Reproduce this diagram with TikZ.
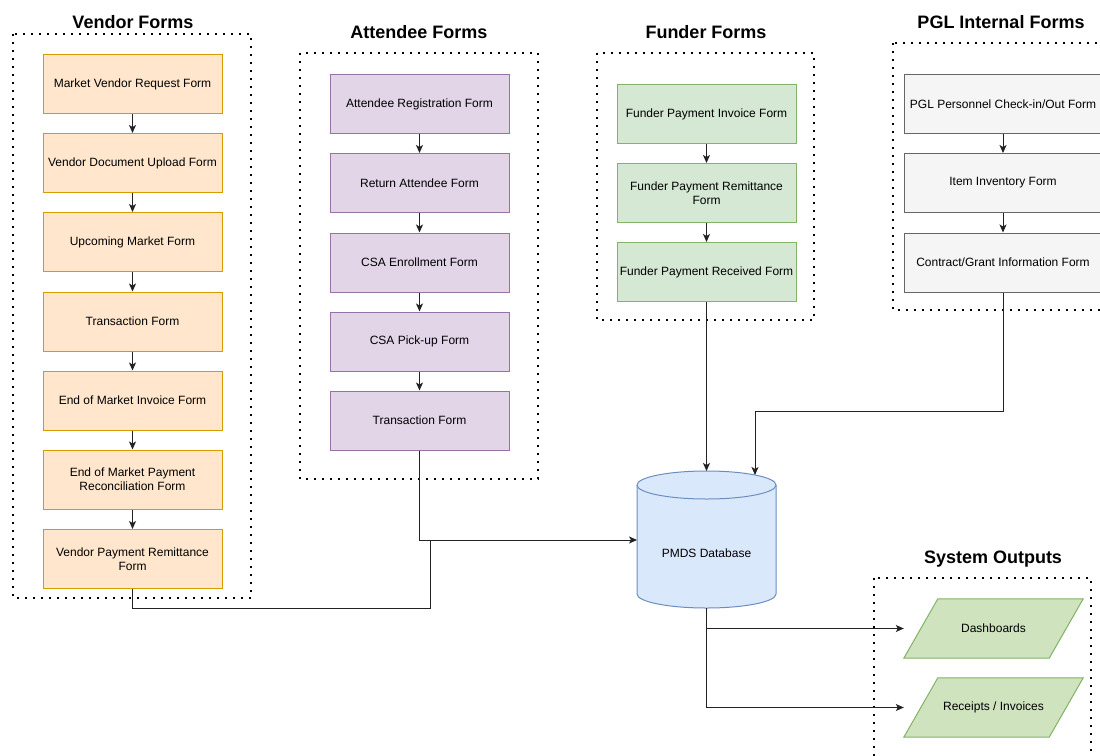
\documentclass[tikz,border=0pt]{standalone}
\usepackage{fontspec}
\setmainfont{Liberation Sans}
\usetikzlibrary{arrows.meta,calc}

\definecolor{vfill}{HTML}{FFE6CC}
\definecolor{vline}{HTML}{D79B00}
\definecolor{afill}{HTML}{E1D5E7}
\definecolor{aline}{HTML}{9673A6}
\definecolor{ffill}{HTML}{D5E8D4}
\definecolor{fline}{HTML}{82B366}
\definecolor{pfill}{HTML}{F5F5F5}
\definecolor{pline}{HTML}{666666}
\definecolor{dbfill}{HTML}{DAE8FC}
\definecolor{dbline}{HTML}{6C8EBF}
\definecolor{ofill}{HTML}{CFE3BE}
\definecolor{oline}{HTML}{82B366}
\definecolor{wire}{HTML}{222222}

\begin{document}
\begin{tikzpicture}[x=1pt,y=1pt,
  form/.style={draw, line width=1pt, minimum width=179pt, minimum height=59pt,
    inner sep=2pt, align=center, font=\fontsize{12}{14.4}\selectfont},
  vendorbox/.style={form, fill=vfill, draw=vline},
  attbox/.style={form, fill=afill, draw=aline},
  funbox/.style={form, fill=ffill, draw=fline},
  pglbox/.style={form, fill=pfill, draw=pline, minimum width=198pt},
  groupframe/.style={line width=2pt, dash pattern=on 2pt off 6pt, black},
  grouptitle/.style={anchor=base, inner sep=0pt, font=\fontsize{18}{21}\selectfont\bfseries},
  wireline/.style={draw=wire, line width=1pt},
  arr/.style={wireline, -{Stealth[length=8pt, width=7pt, inset=2pt]}},
  outbox/.style={minimum width=179pt, minimum height=59pt, inner sep=0pt,
    font=\fontsize{12}{14.4}\selectfont},
]
\clip (0,0) rectangle (1100,-755);
\fill[white] (0,0) rectangle (1100,-755);

% ---- group frames and titles ----
\draw[groupframe] (13,-34) rectangle (251,-598);
\node[grouptitle] (tv) at (133,-28) {Vendor Forms};

\draw[groupframe] (300,-53) rectangle (538,-479);
\node[grouptitle] (ta) at (419,-38) {Attendee Forms};

\draw[groupframe] (597,-53) rectangle (814,-320);
\node[grouptitle] (tf) at (706,-38) {Funder Forms};

\draw[groupframe] (893,-43) rectangle (1120,-310);
\node[grouptitle] (tp) at (1001,-28) {PGL Internal Forms};

\draw[groupframe] (874,-578) rectangle (1091,-780);
\node[grouptitle] (to) at (993,-563) {System Outputs};

% ---- vendor forms ----
\node[vendorbox] (v1) at (132.5,-84)    {Market Vendor Request Form};
\node[vendorbox] (v2) at (132.5,-163)   {Vendor Document Upload Form};
\node[vendorbox] (v3) at (132.5,-242)   {Upcoming Market Form};
\node[vendorbox] (v4) at (132.5,-321.5) {Transaction Form};
\node[vendorbox] (v5) at (132.5,-400.5) {End of Market Invoice Form};
\node[vendorbox] (v6) at (132.5,-479.5) {End of Market Payment\\Reconciliation Form};
\node[vendorbox] (v7) at (132.5,-559)   {Vendor Payment Remittance\\Form};

% ---- attendee forms ----
\node[attbox] (a1) at (419.5,-104)   {Attendee Registration Form};
\node[attbox] (a2) at (419.5,-183)   {Return Attendee Form};
\node[attbox] (a3) at (419.5,-262.5) {CSA Enrollment Form};
\node[attbox] (a4) at (419.5,-341.5) {CSA Pick-up Form};
\node[attbox] (a5) at (419.5,-420.5) {Transaction Form};

% ---- funder forms ----
\node[funbox] (f1) at (706.5,-114) {Funder Payment Invoice Form};
\node[funbox] (f2) at (706.5,-193) {Funder Payment Remittance\\Form};
\node[funbox] (f3) at (706.5,-272) {Funder Payment Received Form};

% ---- PGL internal forms ----
\node[pglbox] (p1) at (1003,-104)   {PGL Personnel Check-in/Out Form};
\node[pglbox] (p2) at (1003,-183)   {Item Inventory Form};
\node[pglbox] (p3) at (1003,-262.5) {Contract/Grant Information Form};

% ---- database cylinder ----
\fill[dbfill] (637,-485) -- (637,-594)
  arc[start angle=180, end angle=360, x radius=69.5pt, y radius=14pt]
  -- (776,-485)
  arc[start angle=0, end angle=180, x radius=69.5pt, y radius=14pt] -- cycle;
\draw[dbline, line width=1pt] (637,-485) -- (637,-594)
  arc[start angle=180, end angle=360, x radius=69.5pt, y radius=14pt]
  -- (776,-485)
  arc[start angle=0, end angle=180, x radius=69.5pt, y radius=14pt] -- cycle;
\draw[dbline, line width=1pt] (637,-485)
  arc[start angle=180, end angle=360, x radius=69.5pt, y radius=14pt];
\node[minimum width=139pt, minimum height=109pt, inner sep=0pt,
  font=\fontsize{12}{14.4}\selectfont] (db) at (706.5,-553.5) {PMDS Database};
\coordinate (dbtopA) at (706.5,-471);
\coordinate (dbtopB) at (755,-475);
\coordinate (dbleft) at (637,-540);

% ---- system outputs ----
\node[outbox] (o1) at (993.5,-628.5) {};
\node[outbox] (o2) at (993.5,-707.5) {};
\foreach \o in {o1,o2}{
  \filldraw[fill=ofill, draw=oline, line width=1pt]
    (\o.south west) -- ($(\o.north west)+(34,0)$) -- (\o.north east)
    -- ($(\o.south east)+(-34,0)$) -- cycle;
}
\node[font=\fontsize{12}{14.4}\selectfont] at (o1) {Dashboards};
\node[font=\fontsize{12}{14.4}\selectfont] at (o2) {Receipts / Invoices};

% ---- chains inside groups ----
\foreach \s/\t in {v1/v2,v2/v3,v3/v4,v4/v5,v5/v6,v6/v7,
                   a1/a2,a2/a3,a3/a4,a4/a5,
                   f1/f2,f2/f3,
                   p1/p2,p2/p3}{
  \draw[arr] (\s) -- (\t);
}

% ---- feeds into the database ----
\coordinate (vbend) at (430,-608);
\coordinate (vjoin) at (430,-540);
\draw[wireline] (v7.south) |- (vbend) -- (vjoin);
\draw[arr] (a5.south) |- (dbleft);
\draw[arr] (f3.south) -- (dbtopA);
\draw[arr] (p3.south) -- ++(0,-118.5) -| (dbtopB);

% ---- database outputs ----
\draw[arr] (db.south) |- (o1.west);
\draw[arr] (db.south) |- (o2.west);
\end{tikzpicture}
\end{document}
